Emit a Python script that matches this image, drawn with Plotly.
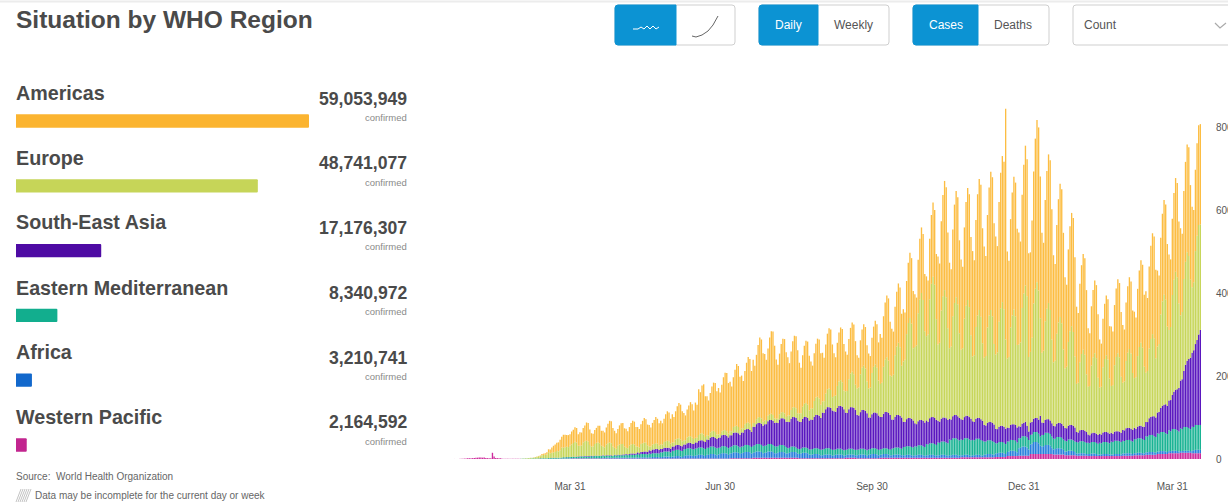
import pandas as pd
import plotly.graph_objects as go

W, H = 1228, 502
regions = ["Americas", "Europe", "South-East Asia", "Eastern Mediterranean", "Africa", "Western Pacific"]
totals = [59053949, 48741077, 17176307, 8340972, 3210741, 2164592]
total_labels = ["59,053,949", "48,741,077", "17,176,307", "8,340,972", "3,210,741", "2,164,592"]
tick_dates = ["2020-03-31", "2020-06-30", "2020-09-30", "2020-12-31", "2021-03-31"]
tick_names = ["Mar 31", "Jun 30", "Sep 30", "Dec 31", "Mar 31"]
y_ticks = [0, 200, 400, 600, 800]
y_names = ["0", "200K", "400K", "600K", "800K"]

# thousands of cases per day, one row per week (Mon..Sun), from Mon 20 Jan 2020
americas = [
0,0,0,0,0,0,0, 0,0,0,0,0,0,0, 0,0,0,0,0,0,0, 0,0,0,0,0,0,0, 0,0,0,0,0,0,0, 0,0,0,0,0,0,0,
0,0,0,0,.1,.2,.3, .3,.5,1,1,2,3,3, 4,5,7,9,13,16,18, 20,22,25,26,31,30,28,
29,28,31,32,35,35,28, 33,31,35,38,44,45,37, 32,31,34,36,40,42,36, 38,36,41,47,52,53,45,
41,37,40,46,50,51,44, 46,41,45,52,56,55,47, 47,44,48,54,59,57,50, 52,46,52,58,63,60,54,
57,51,56,65,71,69,60, 68,61,68,78,85,84,72, 66,60,67,75,82,80,69, 85,80,110,100,115,121,98,
94,85,95,108,116,118,104, 112,100,112,128,138,140,122, 119,108,120,136,149,147,128, 127,114,128,145,158,156,135,
152,138,155,175,192,190,165, 160,145,162,185,199,201,175, 143,130,146,165,177,179,156, 140,126,141,160,172,174,152,
122,110,124,140,150,152,132, 114,103,115,130,140,142,124, 117,105,118,134,145,146,127, 103,92,104,118,127,128,112,
96,87,97,110,119,120,105, 80,72,82,92,100,100,87, 84,76,85,97,105,105,92, 120,108,122,138,149,150,130,
115,104,117,132,143,144,125, 126,114,128,145,157,158,138, 127,115,129,146,158,159,138, 144,130,146,166,179,180,157,
212,191,215,244,263,265,231, 206,186,209,237,256,258,224, 218,196,220,250,270,272,237, 254,229,258,292,316,318,277,
268,241,271,308,333,335,291, 284,256,288,327,352,355,556, 258,232,261,296,320,322,280, 270,243,273,310,337,330,250,
240,283,318,362,391,393,342, 289,260,292,332,358,361,314, 258,233,262,297,321,323,281, 220,198,223,253,273,275,239,
186,168,189,214,231,233,203, 141,127,143,162,175,176,153, 116,104,117,133,144,145,126, 143,129,145,165,178,179,156,
139,125,141,160,173,174,151, 160,144,162,184,199,200,174, 196,176,198,225,243,245,213, 183,165,185,211,228,229,199,
182,163,184,209,226,227,197, 210,189,212,241,260,262,228, 194,174,196,223,240,242]

europe = [
0,0,0,0,0,0,0, 0,0,0,0,0,0,0, 0,0,0,0,0,0,0, 0,0,0,0,0,0,0, 0,0,0,0,0,0,0, 0,0,0,0,0,0,0,
.5,.7,1,1.2,1.6,1.8,2, 2,3,4,5,5,7,8, 8,9,14,11,12,13,14, 16,15,18,24,23,24,25,
24,27,30,33,36,34,26, 25,26,33,36,37,35,27, 22,23,28,31,32,30,24, 21,20,26,29,31,29,22,
17,16,22,25,26,25,19, 15,15,20,22,23,22,17, 14,14,19,21,22,21,16, 9,10,12,13,14,13,10,
11,11,14,16,17,16,12, 10,10,14,15,16,15,12, 10,10,14,15,16,15,12, 11,11,14,16,17,16,12,
10,10,13,14,15,14,11, 8,8,10,11,12,11,9, 10,10,14,15,16,15,12, 10,10,14,15,16,15,12,
9,9,12,13,14,13,10, 9,10,13,14,15,14,11, 9,10,13,14,15,14,11, 15,16,21,23,24,23,17,
20,21,29,32,34,32,24, 26,28,38,42,44,42,32, 27,28,38,43,45,43,32, 37,39,53,59,62,59,45,
51,53,72,81,85,81,61, 64,67,91,102,107,102,77, 70,72,99,110,116,110,84, 80,83,113,126,132,126,95,
104,108,148,165,174,165,125, 145,150,205,229,241,229,174, 184,190,260,291,306,291,220, 203,210,287,321,338,321,243,
184,190,261,292,307,292,221, 170,176,241,270,284,270,204, 167,173,237,265,279,265,201, 156,161,221,247,260,247,187,
162,167,230,257,270,257,194, 179,185,253,283,298,283,215, 166,171,235,262,276,262,199, 197,203,279,312,328,312,180,
170,203,278,311,327,311,235, 168,174,238,266,280,266,202, 153,158,217,242,255,242,184, 143,148,202,226,238,226,171,
116,120,164,183,193,183,139, 115,119,163,182,192,182,138, 111,115,157,176,185,176,133, 113,117,160,179,188,179,135,
114,118,162,181,190,181,137, 120,124,170,190,200,190,144, 119,123,168,188,198,188,143, 159,164,225,252,265,252,191,
170,176,241,270,284,270,204, 157,162,222,248,261,248,188, 158,164,224,251,264,254]

se_asia = [
0,0,0,0,0,0,0, 0,0,0,0,0,0,0, 0,0,0,0,0,0,0, 0,0,0,0,0,0,0, 0,0,0,0,0,0,0, 0,0,0,0,0,0,0,
0,0,0,0,0,0,0, .1,.1,.1,.1,.1,.1,.1, .1,.1,.1,.1,.1,.2,.2, .2,.2,.2,.2,.2,.2,.2,
.2,.3,.5,.5,.6,.7,.8, .7,.8,.9,1,1,1,1, 1,1,1,1,1,1,1, 1,1,1,1,1,1,1,
1,1,1,1,1,2,2, 2,2,2,3,3,3,3, 4,4,5,5,6,6,6, 8,8,9,9,10,10,9,
8,8,9,9,9,9,9, 10,10,11,12,12,12,12, 12,11,12,13,13,13,13, 15,14,16,17,17,17,17,
20,19,21,23,23,23,22, 24,24,26,27,27,27,26, 28,27,30,31,31,31,30, 34,33,36,38,38,38,36,
46,45,48,51,51,51,49, 52,51,55,58,58,58,56, 58,56,61,64,64,64,61, 64,62,67,71,71,71,68,
66,64,69,73,73,73,70, 72,70,76,80,80,80,77, 89,87,94,99,99,99,95, 93,91,98,103,103,103,99,
90,88,95,100,100,100,96, 84,82,88,93,93,93,89, 77,76,82,86,86,86,83, 78,77,83,87,87,87,84,
70,69,74,78,78,78,75, 61,60,65,68,68,68,65, 55,54,58,61,61,61,59, 57,55,60,63,63,63,60,
52,51,55,58,58,58,56, 50,49,53,56,56,56,54, 49,48,51,54,54,54,52, 45,44,48,50,50,50,48,
40,39,42,44,44,44,42, 35,34,37,39,39,39,37, 34,33,36,38,38,38,36, 29,28,30,32,35,28,20,
30,30,32,34,34,34,50, 30,29,31,33,33,33,32, 31,30,32,34,34,34,33, 31,31,33,35,35,35,34,
24,24,26,27,27,27,26, 20,19,21,22,22,22,21, 22,21,23,24,24,24,23, 21,20,22,23,23,23,22,
26,26,28,29,29,29,28, 27,26,28,30,30,30,32, 34,35,40,43,45,48,47, 50,52,58,63,66,70,68,
72,75,82,90,95,99,105, 115,120,135,150,160,166,172, 178,185,195,205,218,229]

e_med = [
0,0,0,0,0,0,0, 0,0,0,0,0,0,0, 0,0,0,0,0,0,0, 0,0,0,0,0,0,0, 0,0,0,0,0,0,0, 0,0,0,.1,.1,.2,.2,
.3,.4,.5,.5,.6,.7,.8, .9,1,1,1,1.2,1.3,1.4, 1.5,1.6,1.8,2,2,2,2, 2,2,2,2.5,3,3,3,
3,3,3,3,3,3,3, 4,4,4,4,4,4,4, 5,4,5,5,5,5,5, 5,5,5,5,5,5,5,
6,5,6,6,6,6,6, 7,6,7,7,7,7,7, 8,7,8,8,8,8,8, 9,8,9,9,9,9,9,
11,11,12,12,12,12,11, 14,14,15,15,15,14,14, 16,16,17,17,17,16,16, 17,17,18,18,18,17,17,
17,17,18,18,18,17,17, 16,16,17,17,17,16,16, 16,16,17,17,17,16,16, 16,16,17,17,17,16,16,
17,17,18,18,18,17,17, 17,17,18,18,18,17,17, 16,16,17,17,17,16,16, 12,12,13,13,13,12,12,
12,12,13,13,13,12,12, 13,13,14,14,14,13,13, 14,14,15,15,15,14,14, 13,13,14,14,14,13,13,
13,13,14,14,14,13,13, 13,13,14,14,14,13,13, 13,13,14,14,14,13,13, 13,13,14,14,14,13,13,
16,16,17,17,17,16,16, 20,20,21,21,21,20,20, 22,21,23,23,23,22,21, 27,26,28,28,28,27,26,
31,30,32,32,32,31,30, 38,37,40,40,40,38,37, 38,37,40,40,40,38,37, 37,36,39,39,39,37,36,
32,31,33,33,33,32,31, 25,24,26,26,26,25,24, 25,24,26,26,26,25,24, 24,23,25,25,25,24,23,
23,22,24,24,24,23,22, 28,27,29,29,29,28,27, 26,25,27,27,27,26,25, 26,25,27,27,27,26,25,
28,27,29,29,29,28,27, 27,26,28,28,28,27,26, 28,27,29,29,29,28,27, 31,30,32,32,32,31,30,
31,30,32,32,32,31,30, 34,33,35,35,35,34,33, 39,38,41,41,41,39,38, 44,43,46,46,46,44,43,
50,48,52,52,52,50,48, 55,53,57,57,57,55,53, 58,56,60,60,60,60]

africa = [
0,0,0,0,0,0,0, 0,0,0,0,0,0,0, 0,0,0,0,0,0,0, 0,0,0,0,0,0,0, 0,0,0,0,0,0,0, 0,0,0,0,0,0,0,
0,0,0,0,0,0,0, 0,0,0,0,0,.1,.1, .1,.1,.1,.1,.2,.2,.2, .3,.3,.4,.5,.5,.5,.6,
.6,.7,.8,.9,1,1,1, 1,1,1,1,1,1,1, 1,1,1,1,1,1,1, 2,1,2,2,2,2,1,
2,2,2,2,2,2,2, 2,2,2,2,2,2,2, 3,2,3,3,3,3,2, 3,3,4,4,4,4,3,
4,4,5,5,5,5,4, 5,5,6,6,6,5,4, 6,7,8,8,8,7,6, 7,8,9,9,9,8,6,
9,9,11,11,11,10,8, 10,11,13,13,13,12,9, 11,12,14,14,14,13,10, 12,13,15,15,15,14,11,
12,13,15,15,15,14,11, 12,13,15,15,15,14,11, 11,12,14,14,14,13,10, 11,12,14,14,14,13,10,
10,11,13,13,13,12,9, 8,9,10,10,10,9,7, 7,8,9,9,9,8,6, 7,8,9,9,9,8,6,
6,7,8,8,8,7,6, 7,8,9,9,9,8,6, 8,9,10,10,10,9,7, 7,8,9,9,9,8,6,
6,7,8,8,8,7,6, 6,6,7,7,7,6,5, 6,6,7,7,7,6,5, 6,6,7,7,7,6,5,
6,6,7,7,7,6,5, 6,6,7,7,7,6,5, 5,5,6,6,6,5,4, 5,5,6,6,6,5,4,
6,7,8,8,8,7,6, 8,9,10,10,10,9,7, 10,11,13,13,13,12,9, 18,19,22,22,22,20,15,
23,25,29,29,29,26,20, 18,19,22,22,22,20,15, 12,13,15,15,15,14,11, 9,9,11,11,11,10,8,
5,5,6,6,6,5,4, 5,5,6,6,6,5,4, 4,4,5,5,5,5,4, 4,4,5,5,5,5,4,
5,5,6,6,6,5,4, 5,5,6,6,6,5,4, 6,6,7,7,7,6,5, 6,6,7,7,7,6,5,
5,5,6,6,6,5,4, 4,4,5,5,5,5,4, 6,7,8,8,8,8]

w_pacific = [
.1,.1,.1,.2,.3,.5,.7, 1,1.2,1.7,1.8,2,2.1,2.6, 2.9,3.2,3.9,3.7,3.2,3.4,2.7, 2.1,2,2,15,6,2.6,2.1,
2,1.9,.6,.9,.5,.4,.7, .4,.5,.4,.5,.4,.5,.4, .3,.3,.2,.3,.2,.2,.2, .2,.2,.2,.3,.3,.3,.3,
.3,.3,.4,.5,.5,.5,.5, .5,.6,.6,.7,.7,.7,.8,
.8,.9,1,1,1,1,1, 1,1,1,1,1,1,1, 1,1,1,1,1,1,1, 1,1,1,1,1,1,1,
1,1,1,1,1,1,1, 1,1,1,1,1,1,1, 1,1,1,1,1,1,1, 1,1,1,1,1,1,1,
1,1,1,1,1,1,1, 1,1,1,1,1,1,1, 1,1,1,1,1,1,1, 1,1,1,1,1,1,1,
1,1,1,1,1,1,1, 1,1,1,1,1,1,1, 2,2,2,2,2,2,2, 2,2,2,2,2,2,2,
3,3,3,3,3,3,3, 3,3,3,3,3,3,3, 3,3,3,3,3,3,3, 3,3,3,3,3,3,3,
2,2,2,2,2,2,2, 2,2,2,2,2,2,2, 2,2,2,2,2,2,2, 2,2,2,2,2,2,2,
3,3,3,3,3,3,3, 2,2,2,2,2,2,2, 2,2,2,2,2,2,2, 3,3,3,3,3,3,3,
3,3,3,3,3,3,3, 3,3,3,3,3,3,3, 3,3,3,3,3,3,3, 3,3,3,3,3,3,3,
3,3,3,3,3,3,3, 3,3,3,3,3,3,3, 4,4,4,4,4,4,4, 4,4,4,4,4,4,4,
4,4,4,4,4,4,4, 5,5,5,5,5,5,5, 7,7,7,7,7,7,7, 8,8,8,8,8,8,8,
12,12,12,12,12,12,12, 12,12,12,12,12,12,12, 11,11,11,11,11,11,11, 9,9,9,9,9,9,9,
8,8,8,8,8,8,8, 7,7,7,7,7,7,7, 7,7,7,7,7,7,7, 7,7,7,7,7,7,7,
8,8,8,8,8,8,8, 9,9,9,9,9,9,9, 10,10,10,10,10,10,10, 12,12,12,12,12,12,12,
14,14,14,14,14,14,14, 15,15,15,15,15,15,15, 14,14,14,14,14,14]

series = [("Western Pacific", w_pacific, "rgba(205,40,155,0.99)"), ("Africa", africa, "rgba(35,125,220,0.99)"),
          ("Eastern Mediterranean", e_med, "rgba(22,178,146,0.99)"), ("South-East Asia", se_asia, "rgba(88,20,190,0.99)"),
          ("Europe", europe, "rgba(198,214,88,0.99)"), ("Americas", americas, "rgba(252,188,64,0.99)")]
n = min(len(s[1]) for s in series)
dates = pd.date_range("2020-01-20", periods=n, freq="D")

TITLE = "#4a4a4a"
FONT = "Liberation Sans"
BLUE = "#0C93D3"
BORDER = "#cfcfcf"

def px(x): return x / W
def py(y): return 1 - y / H

fig = go.Figure()
for name, vals, col in series:
    fig.add_trace(go.Bar(x=dates, y=vals[:n], name=name, marker=dict(color=col, line=dict(width=0)),
                         xaxis="x", yaxis="y", showlegend=False))
fig.add_trace(go.Bar(x=totals, y=regions, orientation="h", width=0.205, xaxis="x2", yaxis="y2",
                     marker=dict(color=["#FBB430", "#C6D558", "#4E0BA4", "#12AE8E", "#1268CC", "#C2258F"],
                                 line=dict(width=0), cornerradius=1.5),
                     showlegend=False))

ann = []
def text(x, y, s, size, color=TITLE, anchor="left", bold=False):
    ann.append(dict(xref="paper", yref="paper", x=px(x), y=py(y), text=f"<b>{s}</b>" if bold else s,
                    showarrow=False, xanchor=anchor, yanchor="middle",
                    font=dict(family=FONT, size=size, color=color), xshift=0, yshift=0,
                    borderpad=0, borderwidth=0))

text(16, 20, "Situation by WHO Region", 24.5, bold=True)
name_y = [93, 158, 222, 288, 352, 417]
num_y = [99, 163, 228, 293, 358, 422]
conf_y = [117, 182, 246, 311, 376, 441]
for r, lab, a, b, c in zip(regions, total_labels, name_y, num_y, conf_y):
    text(16, a, r, 19.7, bold=True)
    text(407, b, lab, 17.6, anchor="right", bold=True)
    text(407, c, "confirmed", 9.5, color="#8a8a8a", anchor="right")
text(16, 476, "Source:  World Health Organization", 10, color="#666666")
text(35, 495, "Data may be incomplete for the current day or week", 10, color="#666666")

shapes = []
def rr(x0, y0, x1, y1, r0=3, r1=3):
    X0, X1, Y0, Y1 = px(x0), px(x1), py(y0), py(y1)
    dx0, dy0 = r0 / W, r0 / H
    dx1, dy1 = r1 / W, r1 / H
    return (f"M{X0+dx0},{Y0} L{X1-dx1},{Y0} Q{X1},{Y0} {X1},{Y0-dy1} L{X1},{Y1+dy1} Q{X1},{Y1} {X1-dx1},{Y1} "
            f"L{X0+dx0},{Y1} Q{X0},{Y1} {X0},{Y1+dy0} L{X0},{Y0-dy0} Q{X0},{Y0} {X0+dx0},{Y0} Z")

def group(x0, xm, x1):
    shapes.append(dict(type="path", xref="paper", yref="paper", path=rr(x0, 5, x1, 45),
                       line=dict(color=BORDER, width=1), fillcolor="white", layer="below"))
    if xm:
        shapes.append(dict(type="path", xref="paper", yref="paper", path=rr(x0, 5, xm, 45, 3, 0.01),
                           line=dict(color=BLUE, width=1), fillcolor=BLUE, layer="below"))

group(615, 676, 735)
group(759, 818, 889)
group(913, 978, 1049)
group(1073, None, 1240)
text(789, 25, "Daily", 12, color="white", anchor="center")
text(853, 25, "Weekly", 12, color="#555555", anchor="center")
text(946, 25, "Cases", 12, color="white", anchor="center")
text(1013, 25, "Deaths", 12, color="#555555", anchor="center")
text(1084, 25, "Count", 12, color="#555555")

def poly(pts, color, width=1):
    p = "M" + " L".join(f"{px(a)},{py(b)}" for a, b in pts)
    shapes.append(dict(type="path", xref="paper", yref="paper", path=p, line=dict(color=color, width=width)))

poly([(633, 29), (638, 29), (641, 27), (644, 29), (647, 26), (650, 29), (653, 26), (656, 29), (659, 27)], "white")
poly([(692, 36), (696, 37), (702, 35), (708, 31), (713, 25), (718, 16)], "#666666")
poly([(1215, 23), (1220, 28), (1226, 23)], "#aaaaaa", 1.2)
poly([(0, 1.5), (1228, 1.5)], "#ececec", 2)
for a in range(16, 27, 2):
    poly([(a, 502), (a + 5, 489)], "#c4c4c4", 1)

fig.update_layout(
    width=W, height=H, margin=dict(l=0, r=0, t=0, b=0), autosize=False,
    paper_bgcolor="white", plot_bgcolor="white", barmode="stack", bargap=0.18,
    showlegend=False, annotations=ann, shapes=shapes, font=dict(family=FONT),
    xaxis=dict(domain=[px(450), px(1204)], type="date",
               range=["2020-01-18 06:30", "2021-04-19 05:00"],
               tickmode="array", tickvals=tick_dates, ticktext=tick_names, showgrid=False, zeroline=False,
               ticks="outside", ticklen=18, tickcolor="rgba(0,0,0,0)", showline=False,
               tickfont=dict(size=10, color="#555555", family=FONT), anchor="y", automargin=False),
    yaxis=dict(domain=[py(459), py(80)], range=[0, (459 - 80) / 0.415], side="right",
               tickmode="array", tickvals=y_ticks, ticktext=y_names, showgrid=False, zeroline=False,
               ticks="outside", ticklen=9, tickcolor="rgba(0,0,0,0)", showline=False,
               tickfont=dict(size=10, color="#555555", family=FONT), anchor="x", automargin=False),
    xaxis2=dict(domain=[px(16), px(309)], range=[0, totals[0]], visible=False, anchor="y2", fixedrange=True),
    yaxis2=dict(domain=[py(477.4), py(88.6)], type="category", categoryorder="array", categoryarray=regions,
                range=[5.5, -0.5], visible=False, anchor="x2", fixedrange=True),
)
fig.write_html("out.html", config=dict(displayModeBar=False),
               post_script="document.body.style.margin='0';document.body.style.overflow='hidden';"
                           "var s=document.createElement('style');"
                           "s.textContent='.bars path{shape-rendering:geometricPrecision !important}';"
                           "document.head.appendChild(s);")
